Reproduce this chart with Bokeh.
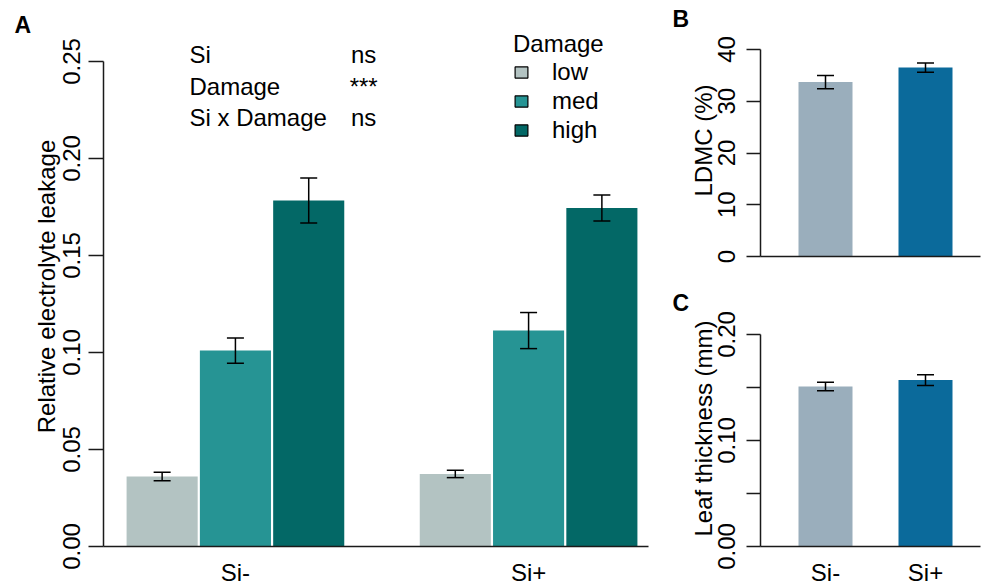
import math
from bokeh.plotting import figure
from bokeh.layouts import row, column
from bokeh.models import (ColumnDataSource, FixedTicker, Whisker, TeeHead, Label,
                          Legend, LegendItem, Range1d)
from bokeh.embed import file_html
from bokeh.resources import INLINE

# ---------------- data ----------------
groups = ["Si-", "Si+"]
damage = ["low", "med", "high"]
damage_colors = ["#B3C3C2", "#269494", "#036866"]

leak_si_minus = [0.0361, 0.1010, 0.1784]
leak_si_minus_se = [0.0022, 0.0065, 0.0116]
leak_si_plus = [0.0374, 0.1113, 0.1745]
leak_si_plus_se = [0.0019, 0.0093, 0.0067]

anova_terms = ["Si", "Damage", "Si x Damage"]
anova_sig = ["ns", "***", "ns"]

si_colors = ["#9AAEBC", "#0B6A9B"]
ldmc = [33.7, 36.5]
ldmc_se = [1.3, 0.9]
thick = [0.151, 0.157]
thick_se = [0.004, 0.005]

leak_ticks = [0.0, 0.05, 0.10, 0.15, 0.20, 0.25]
ldmc_ticks = [0, 10, 20, 30, 40]
thick_ticks = [0.0, 0.05, 0.10, 0.15, 0.20]
thick_tick_labels = ["0.00", "", "0.10", "", "0.20"]

FONT = "Liberation Sans"
FS = "24px"
AXC = "#1a1a1a"


def base_fig(w, h, xr, yr):
    p = figure(width=w, height=h, x_range=Range1d(*xr), y_range=Range1d(*yr),
               output_backend="svg", toolbar_location=None,
               min_border_left=0, min_border_right=0, min_border_top=0, min_border_bottom=0)
    p.xgrid.visible = False
    p.ygrid.visible = False
    p.outline_line_color = None
    return p


def style_axes(p, tick_out, y_at, x_at, ylab_standoff):
    for ax in p.yaxis:
        ax.fixed_location = y_at
        ax.major_tick_out = tick_out
        ax.major_tick_in = 0
        ax.minor_tick_out = 0
        ax.minor_tick_in = 0
        ax.major_label_orientation = "vertical"
        ax.major_label_standoff = ylab_standoff
        ax.major_label_text_font = FONT
        ax.major_label_text_font_size = FS
        ax.major_label_text_color = "black"
        ax.axis_line_color = AXC
        ax.axis_line_width = 1.5
        ax.major_tick_line_color = AXC
        ax.major_tick_line_width = 1.5
    for ax in p.xaxis:
        ax.fixed_location = x_at
        ax.major_tick_out = 0
        ax.major_tick_in = 0
        ax.minor_tick_out = 0
        ax.minor_tick_in = 0
        ax.major_label_standoff = 12
        ax.major_label_text_font = FONT
        ax.major_label_text_font_size = FS
        ax.major_label_text_color = "black"
        ax.axis_line_color = AXC
        ax.axis_line_width = 1.5


def text_label(p, text, x, y, bold=False, size=FS, align="left", angle=0.0):
    p.add_layout(Label(x=x, y=y, text=text, text_font=FONT, text_font_size=size,
                       text_font_style="bold" if bold else "normal", text_align=align,
                       text_baseline="alphabetic", angle=angle, text_color="black"))


# ---------------- Panel A ----------------
# 73.29 px per bar unit, x=0 at px 51.7 ; 1940 px per unit of leakage, y=0 at px 546
axA = (51.7, 73.29)
ayA = (546.0, 1940.0)
pA = base_fig(668, 588,
              ((0 - axA[0]) / axA[1], (668 - axA[0]) / axA[1]),
              (-(588 - ayA[0]) / ayA[1], ayA[0] / ayA[1]))
yaxis_x_A = (103 - axA[0]) / axA[1]
style_axes(pA, 15, yaxis_x_A, 0, 9)

xs, tops, lows, highs, cols = [], [], [], [], []
for gi, (means, ses) in enumerate([(leak_si_minus, leak_si_minus_se), (leak_si_plus, leak_si_plus_se)]):
    for di in range(len(damage)):
        x = 1.5 + gi * 4 + di
        xs.append(x)
        tops.append(means[di])
        lows.append(means[di] - ses[di])
        highs.append(means[di] + ses[di])
        cols.append(damage_colors[di])
srcA = ColumnDataSource(dict(x=xs, top=tops, lower=lows, upper=highs, color=cols))
pA.vbar(x="x", top="top", width=0.97, bottom=0, fill_color="color", line_color=None, source=srcA)
pA.add_layout(Whisker(base="x", upper="upper", lower="lower", source=srcA, dimension="height",
                      level="overlay", line_color="black", line_width=1.5,
                      upper_head=TeeHead(size=17, line_color="black", line_width=1.5),
                      lower_head=TeeHead(size=17, line_color="black", line_width=1.5)))

pA.yaxis.bounds = (0, 0.25)
pA.yaxis.ticker = FixedTicker(ticks=leak_ticks)
pA.yaxis.major_label_overrides = {t: f"{t:.2f}" for t in leak_ticks}
group_centers = [2.5 + gi * 4 for gi in range(len(groups))]
pA.xaxis.bounds = (yaxis_x_A, (648 - axA[0]) / axA[1])
pA.xaxis.ticker = FixedTicker(ticks=group_centers)
pA.xaxis.major_label_overrides = {c: g for c, g in zip(group_centers, groups)}

text_label(pA, "Relative electrolyte leakage", (46 - axA[0]) / axA[1], (ayA[0] - 286) / ayA[1],
           align="center", angle=math.pi / 2)

# ANOVA table
row_y = [0.2535, 0.2370, 0.2210]
for term, sig, yy in zip(anova_terms, anova_sig, row_y):
    text_label(pA, term, 1.873, yy)
    text_label(pA, sig, 4.25, yy, align="center")

# legend (zero-size proxy bars sitting on the baseline, only used for legend swatches)
items = []
for d, c in zip(damage, damage_colors):
    r = pA.vbar(x=[group_centers[0]], top=[0], bottom=[0], width=0.0001,
                fill_color=c, line_color="black", line_width=1.2)
    items.append(LegendItem(label=d, renderers=[r]))
leg = Legend(items=items, title="Damage", location=(513, 444), border_line_color=None,
             background_fill_alpha=0, glyph_width=16, glyph_height=14, label_height=28,
             label_standoff=23, spacing=1, padding=0, margin=0,
             label_text_font=FONT, label_text_font_size=FS, label_text_color="black",
             title_text_font=FONT, title_text_font_size=FS, title_text_font_style="normal",
             title_text_color="black", title_standoff=0)
pA.add_layout(leg)
text_label(pA, "A", (14 - axA[0]) / axA[1], (ayA[0] - 24) / ayA[1], bold=True, size="23px")


# ---------------- Panels B and C ----------------
# 100 px per unit, x=1 at px 825 (page), panels start at page x 668
def si_panel(top_px, h, zero_px, ppu, vals, ses, ticks, tick_labels, ylabel, label_center_px,
             show_x, bounds_top, letter, letter_base_px):
    x0 = 1 + (668 - 825) / 100
    x1 = 1 + (981 - 825) / 100
    y0 = -(top_px + h - zero_px) / ppu
    y1 = (zero_px - top_px) / ppu
    p = base_fig(313, h, (x0, x1), (y0, y1))
    yaxis_x = 1 + (760 - 825) / 100
    style_axes(p, 14, yaxis_x, 0, 12)
    xs = [i + 1 for i in range(len(groups))]
    src = ColumnDataSource(dict(x=xs, top=vals, lower=[v - s for v, s in zip(vals, ses)],
                                upper=[v + s for v, s in zip(vals, ses)], color=si_colors))
    p.vbar(x="x", top="top", width=0.54, bottom=0, fill_color="color", line_color=None, source=src)
    p.add_layout(Whisker(base="x", upper="upper", lower="lower", source=src, dimension="height",
                         level="overlay", line_color="black", line_width=1.5,
                         upper_head=TeeHead(size=17, line_color="black", line_width=1.5),
                         lower_head=TeeHead(size=17, line_color="black", line_width=1.5)))
    p.yaxis.bounds = (0, bounds_top)
    p.yaxis.ticker = FixedTicker(ticks=ticks)
    p.yaxis.major_label_overrides = {t: l for t, l in zip(ticks, tick_labels)}
    p.xaxis.bounds = (yaxis_x, 1 + (980 - 825) / 100)
    if show_x:
        p.xaxis.ticker = FixedTicker(ticks=xs)
        p.xaxis.major_label_overrides = {x: g for x, g in zip(xs, groups)}
    else:
        p.xaxis.ticker = FixedTicker(ticks=[])
    text_label(p, ylabel, 1 + (703 - 825) / 100, (zero_px - label_center_px) / ppu,
               align="center", angle=math.pi / 2)
    text_label(p, letter, 1 + (672 - 825) / 100, (zero_px - letter_base_px) / ppu,
               bold=True, size="23px")
    return p


pB = si_panel(0, 278, 256, 5.175, ldmc, ldmc_se, ldmc_ticks, [str(t) for t in ldmc_ticks],
              "LDMC (%)", 140, False, 40, "B", 18)
pC = si_panel(278, 310, 546, 1060.0, thick, thick_se, thick_ticks, thick_tick_labels,
              "Leaf thickness (mm)", 428, True, 0.20, "C", 302)

layout = row(pA, column(pB, pC))
open("out.html", "w").write(file_html(layout, INLINE))
